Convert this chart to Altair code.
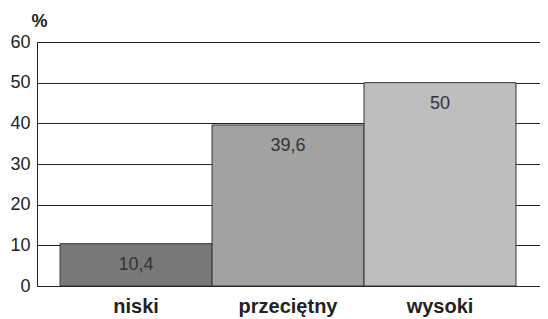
import altair as alt
import pandas as pd

categories = ["niski", "przeciętny", "wysoki"]
values = [10.4, 39.6, 50]
fills = ["#787878", "#a2a2a2", "#bebebe"]
y_ticks = [0, 10, 20, 30, 40, 50, 60]

df = pd.DataFrame({
    "cat": categories,
    "val": values,
    "fill": fills,
    "label": [("%g" % v).replace(".", ",") for v in values],
})

FONT = "Liberation Sans"

x = alt.X("cat:N", sort=categories,
          scale=alt.Scale(paddingInner=0, paddingOuter=0.155, align=0.49),
          axis=alt.Axis(title=None, labelAngle=0, labelFont=FONT, labelFontSize=20,
                        labelFontWeight="bold", labelColor="#222", labelPadding=10,
                        ticks=False, domain=False))
y = alt.Y("val:Q", scale=alt.Scale(domain=[0, 60], nice=False),
          axis=alt.Axis(values=y_ticks, title="%", titleAngle=0, titleAlign="center",
                        titleBaseline="middle", titleX=2, titleY=-21,
                        titleFont=FONT, titleFontSize=18, titleFontWeight="bold",
                        titleColor="#222", labelFont=FONT, labelFontSize=18,
                        labelColor="#222", labelPadding=7, tickSize=0,
                        domainColor="#222", gridColor="#222", gridWidth=1,
                        grid=True))

bars = alt.Chart(df).mark_bar(stroke="#333", strokeWidth=1).encode(
    x=x, y=y, fill=alt.Fill("fill:N", scale=None)
)
text = alt.Chart(df).mark_text(baseline="middle", dy=21, font=FONT, fontSize=18,
                               color="#333").encode(
    x=alt.X("cat:N", sort=categories), y="val:Q", text="label:N"
)

chart = (bars + text).properties(
    width=503, height=244,
    autosize=alt.AutoSizeParams(type="none"),
    padding={"left": 29, "top": 34, "right": 0, "bottom": 33},
).configure_view(stroke=None).configure(background="white")

chart.save("out.html", embed_options={"renderer": "svg", "actions": False})
